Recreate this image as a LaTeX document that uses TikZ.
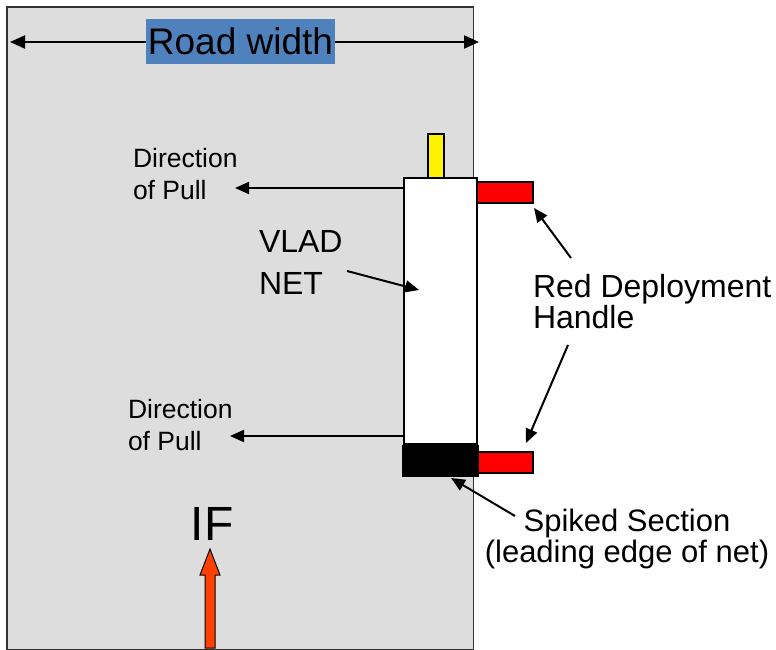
\documentclass[tikz,border=0pt]{standalone}
\usepackage{fontspec}
\setmainfont{Liberation Sans}
\usetikzlibrary{arrows.meta}
\definecolor{roadgray}{HTML}{DDDDDD}
\definecolor{labelblue}{HTML}{4F81BD}
\definecolor{ifred}{HTML}{FF4000}
\begin{document}
\begin{tikzpicture}[x=1pt,y=-1pt,
  box/.style={draw=black, line width=1.5pt, anchor=north west, inner sep=0pt, outer sep=0pt},
  arr/.style={line width=2pt, -{Triangle[length=14pt,width=12pt]}},
  lbl/.style={inner sep=0pt, outer sep=0pt, anchor=north west, align=left}]
\useasboundingbox (0,0) rectangle (776,650);
% road
\node[box, draw=black!80, fill=roadgray, minimum width=466.5pt, minimum height=643pt] (road) at (7,7) {};
% road width
\coordinate (rwl) at (10,42);
\coordinate (rwr) at (479,42);
\draw[line width=2pt, {Triangle[length=15pt,width=13pt]}-{Triangle[length=15pt,width=13pt]}] (rwl) -- (rwr);
\node[fill=labelblue, minimum width=189pt, minimum height=45pt, inner sep=0pt, font=\fontsize{37}{40}\selectfont] (rw) at (240.5,41.5) {Road width};
% net parts
\node[box, fill=yellow, minimum width=16pt, minimum height=47pt] (yel) at (428,134) {};
\node[box, fill=white, minimum width=73pt, minimum height=266pt] (net) at (404,178) {};
\node[box, fill=red, minimum width=56pt, minimum height=21pt] (redu) at (477,182) {};
\node[box, fill=black, minimum width=75pt, minimum height=30pt] (spike) at (403,446) {};
\node[box, fill=red, minimum width=55pt, minimum height=21pt] (redl) at (478,452) {};
% texts
\node[lbl, font=\fontsize{26.5}{32}\selectfont] (dp1) at (133,148) {Direction\\of Pull};
\node[lbl, font=\fontsize{26.5}{32}\selectfont] (dp2) at (128,399) {Direction\\of Pull};
\node[lbl, font=\fontsize{32}{42}\selectfont] (vlad) at (259,230) {VLAD\\NET};
\node[lbl, font=\fontsize{32}{31}\selectfont] (rdh) at (533,274) {Red Deployment\\Handle};
\node[inner sep=0pt, outer sep=0pt, anchor=north, align=center, font=\fontsize{31}{31}\selectfont] (spk) at (627,509) {Spiked Section\\(leading edge of net)};
\node[inner sep=0pt, anchor=base, font=\fontsize{48}{50}\selectfont] (if) at (212,540) {IF};
% direction of pull arrows
\coordinate (t1) at (235,188);
\coordinate (t2) at (230,436);
\draw[arr] (net.west |- t1) -- (t1);
\draw[arr] (net.west |- t2) -- (t2);
% VLAD arrow
\coordinate (v0) at (347,271);
\coordinate (v1) at (419,290);
\draw[arr] (v0) -- (v1);
% handle arrows
\coordinate (h0) at (571,258);
\coordinate (h1) at (534,208);
\coordinate (h2) at (568,345);
\coordinate (h3) at (526,443);
\draw[arr] (h0) -- (h1);
\draw[arr] (h2) -- (h3);
% spiked arrow
\coordinate (s0) at (515,516);
\coordinate (s1) at (451,478);
\draw[arr] (s0) -- (s1);
% IF arrow
\draw[fill=ifred, draw=black, line width=1pt, line join=miter]
  (205,648) -- (205,575) -- (200,575) -- (210,549) -- (220,575) -- (215,575) -- (215,648) -- cycle;
\end{tikzpicture}
\end{document}
